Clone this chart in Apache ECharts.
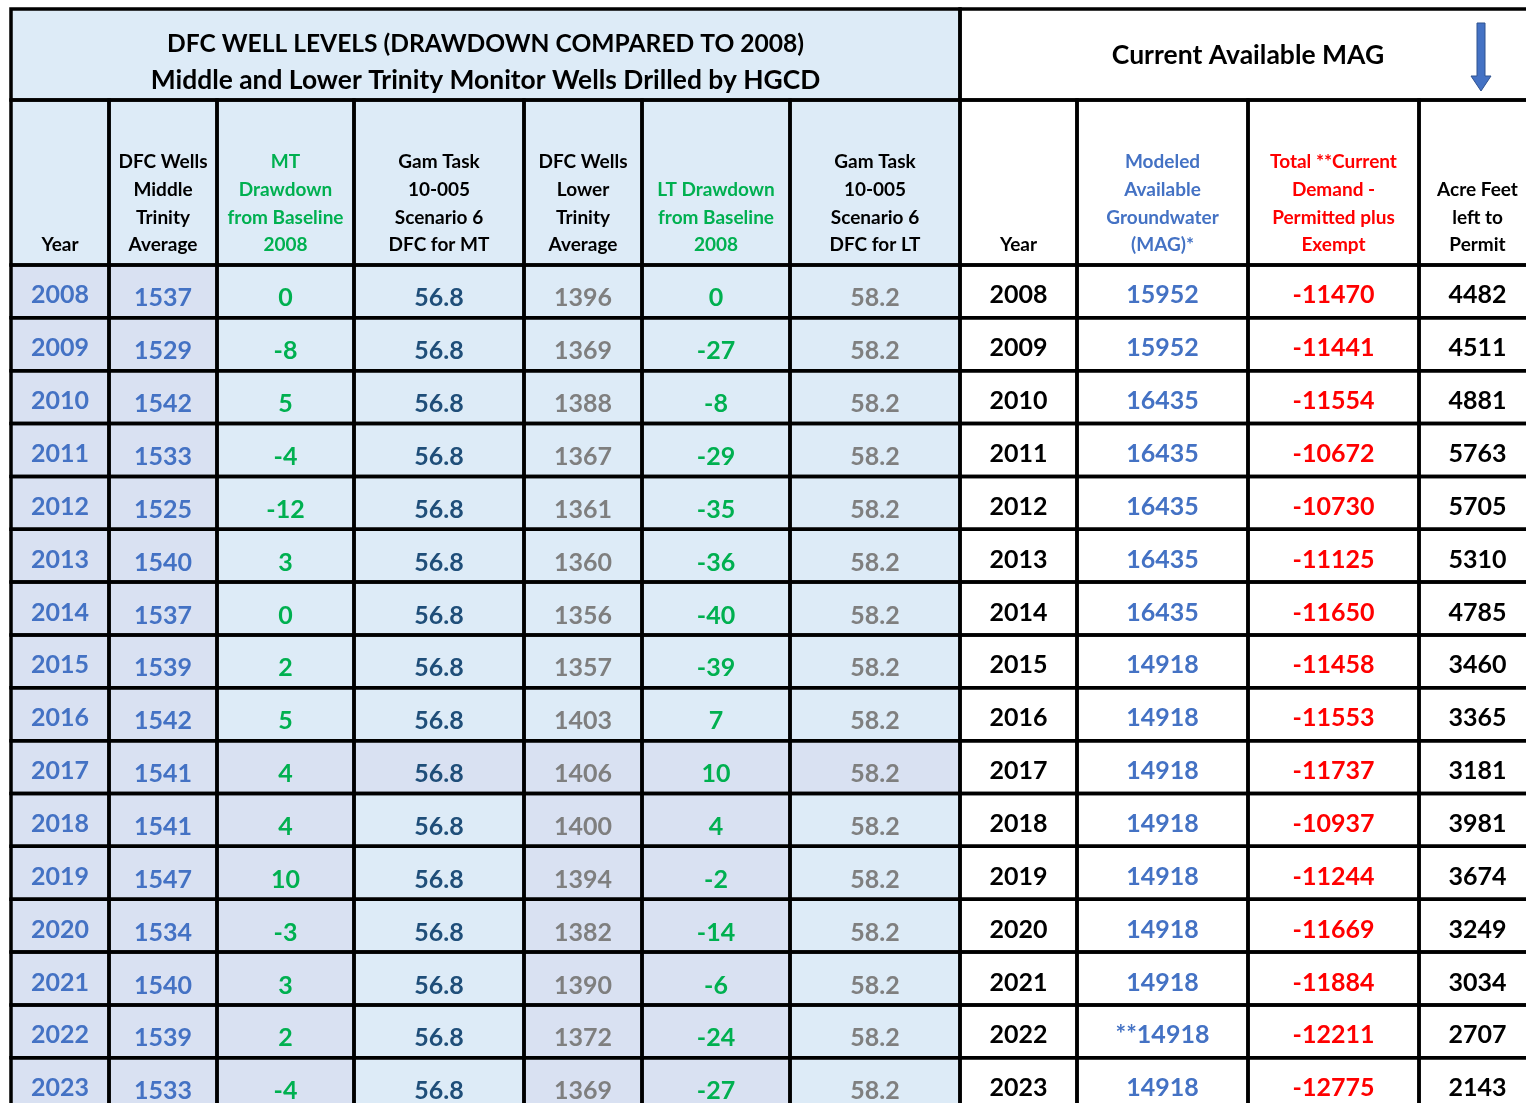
<!DOCTYPE html>
<html lang="en">
<head>
    <meta charset="UTF-8">
    <title>DFC well levels</title>
    <script src="https://cdn.jsdelivr.net/npm/echarts@6/dist/echarts.min.js"></script>
    <style>
        html, body { margin: 0; padding: 0; background: #fff; }
        #chart { width: 1526px; height: 1103px; }
    </style>
</head>
<body>
<div id="chart"></div>

<script type="text/javascript">
    var years = [2008, 2009, 2010, 2011, 2012, 2013, 2014, 2015, 2016, 2017, 2018, 2019, 2020, 2021, 2022, 2023];
    var mtAverage = [1537, 1529, 1542, 1533, 1525, 1540, 1537, 1539, 1542, 1541, 1541, 1547, 1534, 1540, 1539, 1533];
    var mtDrawdown = [0, -8, 5, -4, -12, 3, 0, 2, 5, 4, 4, 10, -3, 3, 2, -4];
    var mtDfc = [56.8, 56.8, 56.8, 56.8, 56.8, 56.8, 56.8, 56.8, 56.8, 56.8, 56.8, 56.8, 56.8, 56.8, 56.8, 56.8];
    var ltAverage = [1396, 1369, 1388, 1367, 1361, 1360, 1356, 1357, 1403, 1406, 1400, 1394, 1382, 1390, 1372, 1369];
    var ltDrawdown = [0, -27, -8, -29, -35, -36, -40, -39, 7, 10, 4, -2, -14, -6, -24, -27];
    var ltDfc = [58.2, 58.2, 58.2, 58.2, 58.2, 58.2, 58.2, 58.2, 58.2, 58.2, 58.2, 58.2, 58.2, 58.2, 58.2, 58.2];
    var mag = [15952, 15952, 16435, 16435, 16435, 16435, 16435, 14918, 14918, 14918, 14918, 14918, 14918, 14918, 14918, 14918];
    var magPrefix = ['', '', '', '', '', '', '', '', '', '', '', '', '', '', '**', ''];
    var demand = [-11470, -11441, -11554, -10672, -10730, -11125, -11650, -11458, -11553, -11737, -10937, -11244, -11669, -11884, -12211, -12775];
    var acreLeft = [4482, 4511, 4881, 5763, 5705, 5310, 4785, 3460, 3365, 3181, 3981, 3674, 3249, 3034, 2707, 2143];

    var titleLeft = ['DFC WELL LEVELS (DRAWDOWN COMPARED TO 2008)', 'Middle and Lower Trinity Monitor Wells Drilled by HGCD'];
    var titleRight = 'Current Available MAG';
    var colHeaders = [
        ['Year'],
        ['DFC Wells', 'Middle', 'Trinity', 'Average'],
        ['MT', 'Drawdown', 'from Baseline', '2008'],
        ['Gam Task', '10-005', 'Scenario 6', 'DFC for MT'],
        ['DFC Wells', 'Lower', 'Trinity', 'Average'],
        ['LT Drawdown', 'from Baseline', '2008'],
        ['Gam Task', '10-005', 'Scenario 6', 'DFC for LT'],
        ['Year'],
        ['Modeled', 'Available', 'Groundwater', '(MAG)*'],
        ['Total **Current', 'Demand -', 'Permitted plus', 'Exempt'],
        ['Acre Feet', 'left to', 'Permit']
    ];

    // ---- layout / style ----
    var colEdges = [11, 109, 217, 354, 524, 642, 790, 960, 1077, 1248, 1419, 1536];
    var rowEdges = [9, 100, 265];
    for (var k = 1; k <= years.length; k++) rowEdges.push(265 + k * 52.85);

    var LIGHT = '#DDEBF7', LAV = '#D9E1F2', WHITE = '#FFFFFF';
    var BLUE = '#4472C4', GREEN = '#00B050', NAVY = '#1F4E79', GRAY = '#7F7F7F', RED = '#FF0000', BLACK = '#000000';
    var FONT = 'Lato, "Open Sans", sans-serif';
    var headColors = [BLACK, BLACK, GREEN, BLACK, BLACK, GREEN, BLACK, BLACK, BLUE, RED, BLACK];
    var bodyColors = [BLUE, BLUE, GREEN, NAVY, GRAY, GREEN, GRAY, BLACK, BLUE, RED, BLACK];

    function bodyFill(col, i) {
        if (col <= 1) return LAV;
        if (col >= 7) return WHITE;
        if (col === 3 || col === 6) return i === 9 ? LAV : LIGHT;
        return i >= 9 ? LAV : LIGHT;
    }

    var cells = [];
    function addCell(c0, c1, r0, r1, text, color, fill, font, lh, anchor, dy, rich) {
        cells.push({c0: c0, c1: c1, r0: r0, r1: r1, text: text, color: color, fill: fill,
            font: font, lh: lh, anchor: anchor, dy: dy || 0, rich: rich});
    }

    // title row (second line is set a little larger, like the original)
    addCell(0, 7, 0, 1, '{a|' + titleLeft[0] + '}\n{b|' + titleLeft[1] + '}', BLACK, LIGHT,
        'bold 24.6px ' + FONT, 36, 'middle', 8, {
            a: {font: 'bold 24.6px ' + FONT, lineHeight: 36, fill: BLACK},
            b: {font: 'bold 26.4px ' + FONT, lineHeight: 36, fill: BLACK}
        });
    addCell(7, 11, 0, 1, titleRight, BLACK, WHITE, 'bold 26.5px ' + FONT, 30, 'middle', 1);

    // column headers
    colHeaders.forEach(function (lines, c) {
        addCell(c, c + 1, 1, 2, lines.join('\n'), headColors[c], c < 7 ? LIGHT : WHITE,
            'bold 19px ' + FONT, 27.7, 'bottom', -6);
    });

    // body
    years.forEach(function (y, i) {
        var vals = [
            y, mtAverage[i], mtDrawdown[i], mtDfc[i].toFixed(1), ltAverage[i], ltDrawdown[i],
            ltDfc[i].toFixed(1), y, magPrefix[i] + mag[i], demand[i], acreLeft[i]
        ];
        vals.forEach(function (v, c) {
            var dy = (c === 0 || c >= 7) ? 4 : 7;
            addCell(c, c + 1, i + 2, i + 3, String(v), bodyColors[c], bodyFill(c, i),
                'bold 25px ' + FONT, 30, 'middle', dy);
        });
    });

    var seriesData = cells.map(function (cell, idx) {
        return [(colEdges[cell.c0] + colEdges[cell.c1]) / 2, (rowEdges[cell.r0] + rowEdges[cell.r1]) / 2, idx];
    });

    function cellRect(api, cell) {
        var p0 = api.coord([colEdges[cell.c0], rowEdges[cell.r0]]);
        var p1 = api.coord([colEdges[cell.c1], rowEdges[cell.r1]]);
        return {x: p0[0], y: p0[1], width: p1[0] - p0[0], height: p1[1] - p0[1]};
    }

    var myChart = echarts.init(document.getElementById('chart'));
    var option = {
        animation: false,
        backgroundColor: '#fff',
        grid: {left: 0, right: 0, top: 0, bottom: 0},
        xAxis: {type: 'value', min: 0, max: 1526, show: false},
        yAxis: {type: 'value', min: 0, max: 1103, inverse: true, show: false},
        graphic: [{
            // blue arrow in the MAG title cell
            type: 'polygon',
            z: 100,
            shape: {points: [[1477, 23], [1485, 23], [1485, 76], [1491, 76], [1481, 91], [1471, 76], [1477, 76]]},
            style: {fill: BLUE, stroke: '#2F528F', lineWidth: 1}
        }],
        series: [
            {
                type: 'custom',
                name: 'cells',
                data: seriesData,
                z: 2,
                renderItem: function (params, api) {
                    var cell = cells[api.value(2)];
                    var r = cellRect(api, cell);
                    var ty = cell.anchor === 'bottom' ? r.y + r.height + cell.dy : r.y + r.height / 2 + cell.dy;
                    var textStyle = {
                        x: r.x + r.width / 2, y: ty, text: cell.text, fill: cell.color,
                        font: cell.font, lineHeight: cell.lh, align: 'center',
                        verticalAlign: cell.anchor
                    };
                    if (cell.rich) textStyle.rich = cell.rich;
                    return {
                        type: 'group',
                        children: [
                            {type: 'rect', shape: r, style: {fill: cell.fill}},
                            {type: 'text', style: textStyle}
                        ]
                    };
                }
            },
            {
                type: 'custom',
                name: 'borders',
                data: seriesData,
                z: 3,
                silent: true,
                renderItem: function (params, api) {
                    var cell = cells[api.value(2)];
                    return {type: 'rect', shape: cellRect(api, cell),
                        style: {fill: 'none', stroke: '#000', lineWidth: 3.5}};
                }
            }
        ]
    };
    myChart.setOption(option);
</script>
</body>
</html>
